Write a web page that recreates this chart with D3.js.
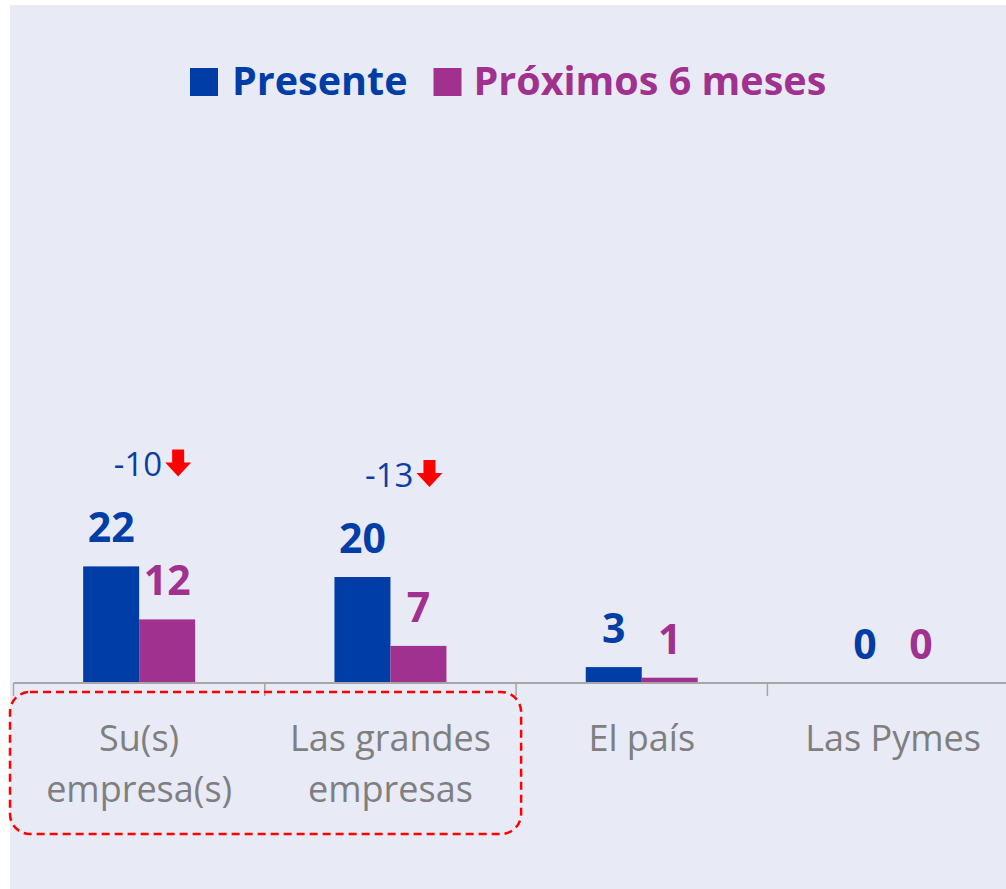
<!DOCTYPE html>
<html>
<head>
<meta charset="utf-8">
<script src="https://cdn.jsdelivr.net/npm/d3@7"></script>
<style>
  html, body { margin: 0; padding: 0; background: #ffffff; }
  svg { display: block; }
  text { font-family: "Open Sans", "Noto Sans", sans-serif; }
</style>
</head>
<body>
<svg id="chart" width="1006" height="889"></svg>
<script>
// ---- data ----
const categories = ["Su(s) empresa(s)", "Las grandes empresas", "El país", "Las Pymes"];
const categoryLines = [["Su(s)", "empresa(s)"], ["Las grandes", "empresas"], ["El país"], ["Las Pymes"]];
const seriesNames = ["Presente", "Próximos 6 meses"];
const presente = [22, 20, 3, 0];
const proximos = [12, 7, 1, 0];
const deltas = [-10, -13, null, null];

const colors = { "Presente": "#003DA6", "Próximos 6 meses": "#A0318F" };

const svg = d3.select("#chart");
const W = 1006, H = 889;

// panel background
svg.append("rect").attr("x", 10).attr("y", 5).attr("width", W - 10).attr("height", H - 5)
  .attr("fill", "#E8EBF6");

const baseY = 683;
const x0 = d3.scaleBand().domain(categories).range([13.5, 1018.7]).padding(0);
const x1 = d3.scaleBand().domain(seriesNames).range([0, x0.bandwidth()]).paddingInner(0).paddingOuter(1.244);
const y = d3.scaleLinear().domain([0, 100]).range([baseY, 153]);

const rows = categories.map((c, i) => ({
  cat: c, lines: categoryLines[i], delta: deltas[i],
  vals: [{ s: "Presente", v: presente[i] }, { s: "Próximos 6 meses", v: proximos[i] }]
}));

// bars
const g = svg.append("g");
const grp = g.selectAll("g.cat").data(rows).join("g")
  .attr("class", "cat")
  .attr("transform", d => `translate(${x0(d.cat)},0)`);

grp.selectAll("rect").data(d => d.vals).join("rect")
  .attr("x", d => x1(d.s))
  .attr("y", d => y(d.v))
  .attr("width", x1.bandwidth())
  .attr("height", d => baseY - y(d.v))
  .attr("fill", d => colors[d.s]);

// value labels
grp.selectAll("text.val").data(d => d.vals).join("text")
  .attr("class", "val")
  .attr("x", d => x1(d.s) + x1.bandwidth() / 2)
  .attr("y", d => y(d.v) - 24)
  .attr("text-anchor", "middle")
  .attr("font-size", 41)
  .attr("font-weight", 700)
  .attr("fill", d => colors[d.s])
  .text(d => d.v);

// axis
const axis = svg.append("g");
axis.append("line").attr("x1", x0.range()[0]).attr("x2", W).attr("y1", baseY).attr("y2", baseY)
  .attr("stroke", "#A6A6A6").attr("stroke-width", 2);
const tickXs = categories.map(c => x0(c)).concat([x0.range()[1]]);
axis.selectAll("line.tick").data(tickXs).join("line")
  .attr("class", "tick")
  .attr("x1", d => d).attr("x2", d => d)
  .attr("y1", baseY).attr("y2", baseY + 13)
  .attr("stroke", "#A6A6A6").attr("stroke-width", 1.5);

// category labels
const lab = svg.append("g").selectAll("text").data(rows).join("text")
  .attr("text-anchor", "middle")
  .attr("font-size", 36)
  .attr("fill", "#7F7F7F");
lab.selectAll("tspan").data(d => d.lines.map((l, i) => ({ l, i, cx: x0(d.cat) + x0.bandwidth() / 2 }))).join("tspan")
  .attr("x", d => d.cx)
  .attr("y", d => 751 + d.i * 51)
  .text(d => d.l);

// delta annotations
const ann = svg.append("g").selectAll("g").data(rows.filter(d => d.delta !== null)).join("g")
  .attr("transform", d => `translate(${x0(d.cat) + x0.bandwidth() / 2 + 23},${y(d.vals[0].v) - 90})`);
ann.append("text")
  .attr("x", 0).attr("y", 0)
  .attr("text-anchor", "end")
  .attr("font-size", 33)
  .attr("fill", "#0B3EA3")
  .text(d => d.delta);
ann.append("path")
  .attr("d", "M7,-27 L19,-27 L19,-14 L26,-14 L13,0 L0,-14 L7,-14 Z")
  .attr("transform", "translate(3,0)")
  .attr("fill", "#FF0000");

// dashed highlight box around first two categories
const bx1 = x0(categories[0]) - 3.5;
const bx2 = x0(categories[1]) + x0.bandwidth() + 5;
svg.append("rect")
  .attr("x", bx1).attr("y", 692)
  .attr("width", bx2 - bx1).attr("height", 142)
  .attr("rx", 20).attr("ry", 20)
  .attr("fill", "none")
  .attr("stroke", "#FF0000")
  .attr("stroke-width", 2.5)
  .attr("stroke-dasharray", "8,5");

// legend
const leg = svg.append("g");
let lx = 190;
const legY = 68;
seriesNames.forEach((s, i) => {
  leg.append("rect").attr("x", lx).attr("y", legY).attr("width", 28).attr("height", 28).attr("fill", colors[s]);
  const t = leg.append("text").attr("x", lx + 28 + (i === 0 ? 14 : 12)).attr("y", legY + 27)
    .attr("font-size", 39.5).attr("font-weight", 700).attr("fill", colors[s]).text(s);
  lx = lx + 28 + (i === 0 ? 14 : 12) + t.node().getComputedTextLength() + 26;
});
</script>
</body>
</html>
